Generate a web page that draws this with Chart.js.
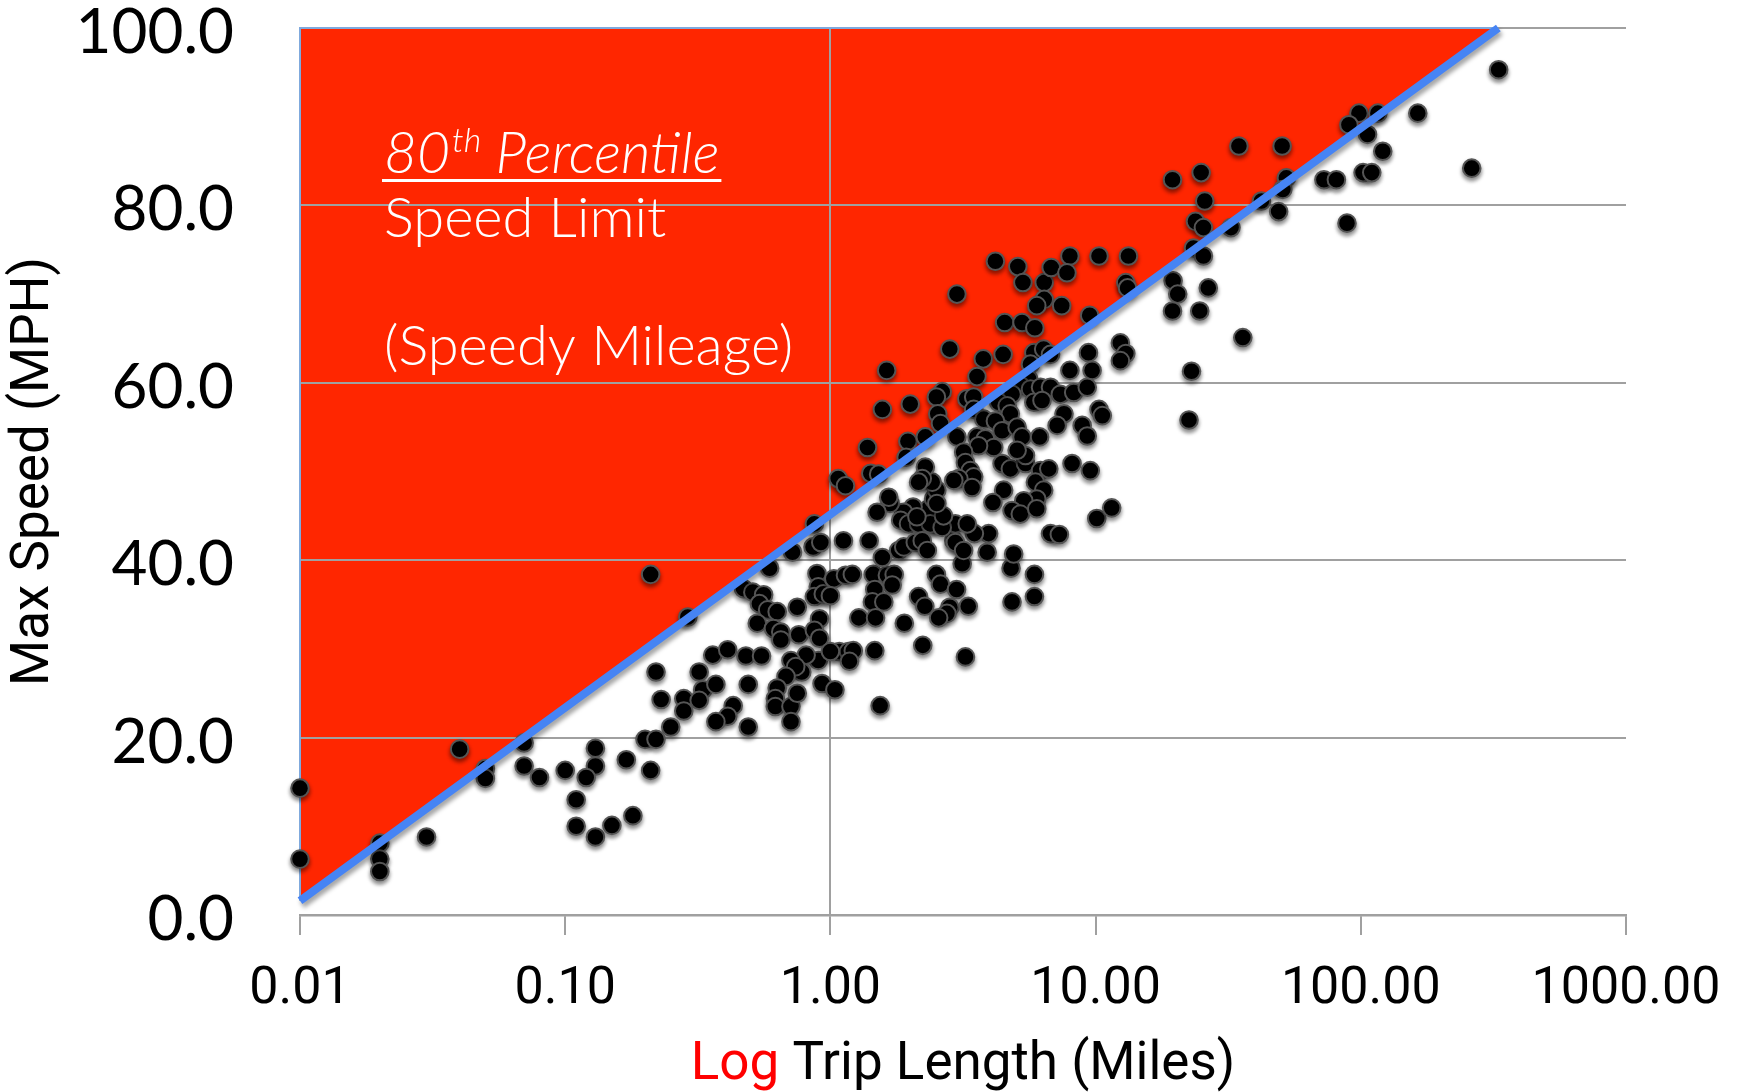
<!DOCTYPE html>
<html>
<head>
<meta charset="utf-8">
<script src="https://cdn.jsdelivr.net/npm/chart.js@4.4.1/dist/chart.umd.min.js"></script>
<style>
  html, body { margin: 0; padding: 0; background: #fff; }
  canvas { display: block; }
</style>
</head>
<body>
<canvas id="speedChart" width="1740" height="1092"></canvas>
<script>
// trip length (miles) and max speed (mph)
const tripMiles = [
  0.01, 0.01, 0.02, 0.02, 0.02, 0.03, 0.04, 0.05, 0.05, 0.07, 0.07, 0.08, 0.11, 0.11, 0.13, 0.15, 0.18, 0.87, 0.86, 0.92, 0.72,
  0.21, 0.29, 0.59, 0.47, 0.51, 0.56, 0.54, 0.58, 0.63, 0.53,
  0.61, 0.65, 0.65, 0.76, 0.75, 0.89, 0.90, 0.87, 0.91, 0.87,
  0.91, 0.90, 0.81, 0.78, 0.71, 0.74, 0.68, 0.63, 0.62, 0.62,
  0.71, 0.75, 0.71, 0.93, 0.36, 0.41, 0.48, 0.55, 0.22, 0.32,
  0.33, 0.37, 0.49, 0.23, 0.28, 0.32, 0.28, 0.43, 0.41, 0.37,
  0.49, 0.25, 0.20, 0.22, 0.13, 0.13, 0.17, 0.21, 0.10, 0.12, 0.94,
  1.03, 1.14, 1.21, 1.45, 1.64, 1.74, 1.71, 1.47, 1.44, 1.59,
  1.00, 1.28, 1.48, 1.90, 2.15, 2.27, 2.51, 2.60, 2.99, 3.14,
  2.82, 2.75, 2.56, 3.31, 4.80, 5.88, 4.84, 5.88, 1.08, 1.17,
  1.22, 1.18, 1.47, 2.23, 3.23, 1.04, 1.54, 1.00,
  2.82, 1.63, 3.77, 4.48, 3.57, 2.64, 2.51, 1.57, 2.00, 2.54,
  2.60, 1.38, 1.96, 2.28, 1.93, 1.07, 1.14, 1.42, 1.52, 3.27,
  3.47, 3.47, 5.85, 6.37, 6.76, 5.68, 5.60, 8.00, 9.40, 9.70,
  5.20, 5.68, 6.20, 6.76, 7.36, 8.27, 9.30, 4.84, 4.31, 4.64,
  4.77, 5.85, 6.28, 7.60, 7.16, 8.90, 9.30, 10.3, 3.79, 4.19,
  4.44, 5.06, 5.28, 6.15, 3.00, 3.57, 3.84, 4.13, 3.62, 3.18,
  3.23, 3.37, 3.47, 3.05, 2.92, 3.42, 4.44, 4.77, 5.44, 5.44,
  5.06, 6.20, 6.66, 5.93, 6.37, 6.00, 8.15, 9.55, 4.50, 4.10,
  5.36, 4.84, 5.20, 6.00, 10.1, 6.76, 7.30, 4.91, 3.95, 3.49,
  2.92, 2.96, 3.28, 2.45, 2.35, 2.45, 2.52, 2.42, 2.28, 2.22,
  2.15, 2.05, 1.89, 1.68, 1.66, 1.50, 1.84, 1.97, 2.15, 2.38,
  2.64, 2.67, 2.52, 2.12, 1.12, 1.40, 1.81, 1.89, 2.09, 2.22,
  2.32, 2.96, 3.18, 1.57, 3.90,
  98.4, 90.2, 106, 116, 34.7, 50.5, 19.5, 25.0, 25.8, 52.4,
  50.8, 42.2, 49.0, 72.6, 80.9, 102, 110, 88.7, 23.8, 25.5,
  32.4, 23.4, 25.5, 35.9, 19.6, 20.4, 19.5, 24.7, 26.6, 23.0,
  22.5, 4.19, 5.09, 5.32, 6.40, 6.80, 8.00, 7.80, 10.3, 13.3,
  13.0, 13.2, 3.00, 6.40, 6.00, 7.45, 9.50, 4.54, 5.28, 5.90,
  12.4, 13.0, 12.4, 10.6,
  331, 164, 121, 262, 11.5
];
const maxSpeed = [
  14.3, 6.3, 8.1, 6.3, 4.9, 8.8, 18.7, 16.5, 15.4, 19.4, 16.8, 15.5, 13.0, 10.0, 8.8, 10.1, 11.2, 44.1, 41.5, 42.0, 40.9,
  38.4, 33.6, 39.1, 36.8, 36.4, 36.1, 35.1, 34.4, 34.2, 32.9,
  32.3, 31.9, 31.0, 31.6, 34.7, 38.5, 37.0, 35.9, 33.4, 32.1,
  31.2, 28.7, 29.3, 27.4, 28.7, 28.0, 26.9, 25.6, 24.4, 23.5,
  23.5, 25.0, 21.8, 26.1, 29.3, 29.9, 29.2, 29.2, 27.4, 27.4,
  25.4, 26.0, 26.0, 24.3, 24.4, 24.2, 23.0, 23.6, 22.4, 21.8,
  21.2, 21.2, 19.8, 19.8, 18.8, 16.8, 17.5, 16.3, 16.3, 15.5, 36.2,
  37.9, 38.3, 38.4, 38.4, 38.3, 38.4, 37.2, 36.7, 35.3, 35.3,
  36.0, 33.5, 33.5, 32.9, 35.9, 34.8, 38.4, 37.3, 36.7, 39.6,
  34.7, 34.0, 33.5, 34.8, 39.1, 38.4, 35.3, 35.9, 29.7, 29.7,
  29.8, 28.6, 29.8, 30.4, 29.1, 25.4, 23.6, 29.7,
  63.8, 61.4, 62.7, 63.2, 60.7, 59.0, 58.4, 57.0, 57.6, 56.5,
  55.4, 52.7, 53.4, 53.9, 51.6, 49.2, 48.4, 49.8, 49.7, 58.2,
  58.4, 57.0, 63.4, 63.8, 63.2, 62.1, 60.4, 61.4, 63.4, 61.4,
  59.7, 59.3, 59.5, 59.5, 58.7, 58.9, 59.5, 58.7, 57.8, 57.4,
  56.5, 57.8, 58.0, 56.5, 55.2, 55.2, 54.0, 57.0, 55.9, 55.7,
  54.6, 55.0, 53.9, 53.9, 53.9, 53.9, 53.7, 52.7, 52.9, 52.2,
  51.0, 50.1, 49.4, 49.2, 49.0, 48.2, 50.9, 50.3, 50.9, 51.8,
  52.4, 50.1, 50.3, 48.8, 47.9, 46.9, 50.9, 50.1, 47.9, 46.5,
  46.7, 45.6, 45.2, 45.8, 44.7, 43.0, 42.9, 40.7, 43.0, 43.0,
  42.2, 44.1, 44.1, 44.1, 45.8, 46.9, 47.9, 48.8, 50.5, 49.2,
  48.8, 46.0, 45.4, 46.4, 47.1, 45.4, 44.5, 44.1, 44.1, 44.1,
  43.7, 45.0, 46.4, 44.9, 42.2, 42.2, 41.1, 41.5, 42.0, 42.2,
  41.1, 42.0, 41.1, 40.3, 40.9,
  90.4, 89.1, 88.0, 90.4, 86.7, 86.7, 82.9, 83.7, 80.5, 83.1,
  81.8, 80.5, 79.3, 82.9, 82.9, 83.7, 83.7, 78.0, 78.2, 77.5,
  77.5, 75.2, 74.3, 65.1, 71.5, 70.0, 68.1, 68.1, 70.7, 61.3,
  55.8, 73.7, 73.1, 71.3, 71.3, 73.0, 74.3, 72.4, 74.3, 74.3,
  71.3, 70.7, 70.0, 69.4, 68.7, 68.7, 67.6, 66.8, 66.8, 66.2,
  64.5, 63.3, 62.5, 56.3,
  95.3, 90.4, 86.1, 84.2, 45.9
];

// 80th percentile speed limit line (end points)
const limitMiles = [0.01, 330];
const limitSpeed = [1.6, 100];

const xTicks = [0.01, 0.1, 1, 10, 100, 1000];
const xTickLabels = ['0.01', '0.10', '1.00', '10.00', '100.00', '1000.00'];
const yMax = 100;
const yStep = 20;

const RED = '#ff2600';
const BLUE = '#4684f4';
const GRID = '#a0a0a0';

const points = tripMiles.map((m, i) => ({x: m, y: maxSpeed[i]}));
const limitLine = limitMiles.map((m, i) => ({x: m, y: limitSpeed[i]}));
const regionEdge = [
  {x: limitMiles[0], y: limitSpeed[0]},
  {x: limitMiles[0], y: yMax},
  {x: limitMiles[1], y: yMax}
];

// shadows on some datasets, and grid redrawn over the red area
const shadowPlugin = {
  id: 'shadowPlugin',
  beforeDatasetDraw(chart, args) {
    const ds = chart.data.datasets[args.index];
    if (!ds.shadow) return;
    const ctx = chart.ctx;
    ctx.save();
    ctx.shadowColor = ds.shadow.color;
    ctx.shadowBlur = ds.shadow.blur;
    ctx.shadowOffsetX = ds.shadow.dx;
    ctx.shadowOffsetY = ds.shadow.dy;
  },
  afterDatasetDraw(chart, args) {
    const ds = chart.data.datasets[args.index];
    if (ds.shadow) chart.ctx.restore();
    if (ds.regrid) {
      chart.scales.x.drawGrid(chart.chartArea);
      chart.scales.y.drawGrid(chart.chartArea);
    }
  }
};

// annotation inside the red area + two coloured x title
const textPlugin = {
  id: 'textPlugin',
  afterDraw(chart) {
    const ctx = chart.ctx;
    const area = chart.chartArea;
    const left = area.left + 84;
    ctx.save();
    ctx.fillStyle = '#ffffff';
    ctx.textBaseline = 'alphabetic';
    ctx.textAlign = 'left';

    ctx.font = 'italic 300 57px Lato';
    ctx.fillText('80', left, 173);
    let x = left + ctx.measureText('80').width + 2;
    ctx.font = 'italic 300 34px Lato';
    ctx.fillText('th', x, 152);
    x += ctx.measureText('th').width;
    ctx.font = 'italic 300 57px Lato';
    ctx.fillText(' Percentile', x, 173);
    x += ctx.measureText(' Percentile').width;
    ctx.fillRect(left - 2, 179, x - left + 4, 3);

    ctx.font = '300 56px Lato';
    ctx.fillText('Speed Limit', left, 237);
    ctx.fillText('(Speedy Mileage)', left, 365);

    // x axis title
    ctx.font = '53px Roboto';
    const parts = [['Log', '#ff0000'], [' Trip Length (Miles)', '#000000']];
    const total = parts.reduce((s, p) => s + ctx.measureText(p[0]).width, 0);
    let tx = (area.left + area.right) / 2 - total / 2;
    parts.forEach(p => {
      ctx.fillStyle = p[1];
      ctx.fillText(p[0], tx, 1079);
      tx += ctx.measureText(p[0]).width;
    });
    ctx.restore();
  }
};

new Chart(document.getElementById('speedChart'), {
  type: 'scatter',
  data: {
    datasets: [
      {
        type: 'line',
        label: 'limit',
        data: limitLine,
        borderColor: BLUE,
        borderWidth: 8,
        pointRadius: 0,
        fill: false,
        tension: 0,
        order: 0,
        clip: false,
        shadow: {color: 'rgba(0,0,0,0.35)', blur: 4, dx: 2, dy: 4}
      },
      {
        label: 'trips',
        data: points,
        pointRadius: 8.8,
        pointBackgroundColor: '#000000',
        pointBorderColor: '#555555',
        pointBorderWidth: 2,
        order: 1,
        clip: false,
        shadow: {color: 'rgba(0,0,0,0.45)', blur: 4, dx: 0, dy: 3}
      },
      {
        type: 'line',
        label: 'edge',
        data: regionEdge,
        borderColor: '#7fa9dd',
        borderWidth: 2,
        pointRadius: 0,
        fill: false,
        order: 2,
        clip: false
      },
      {
        type: 'line',
        label: 'speedy',
        data: limitLine,
        borderWidth: 0,
        borderColor: 'rgba(0,0,0,0)',
        backgroundColor: RED,
        pointRadius: 0,
        fill: 'end',
        order: 3,
        regrid: true
      }
    ]
  },
  options: {
    responsive: false,
    animation: false,
    devicePixelRatio: 1,
    events: [],
    layout: { padding: { top: 28, right: 114, left: 0, bottom: 0 } },
    plugins: {
      legend: { display: false },
      tooltip: { enabled: false }
    },
    scales: {
      x: {
        type: 'logarithmic',
        min: xTicks[0],
        max: xTicks[xTicks.length - 1],
        afterBuildTicks: scale => { scale.ticks = xTicks.map(v => ({value: v})); },
        afterFit: scale => { scale.height = 177; scale.paddingLeft = 0; scale.paddingRight = 0; },
        ticks: {
          autoSkip: false,
          maxRotation: 0,
          padding: 24,
          color: '#000000',
          font: { family: 'Roboto', size: 52 },
          callback: (v, i) => xTickLabels[i]
        },
        grid: {
          color: c => (c.tick && c.tick.value === 1 ? GRID : 'rgba(0,0,0,0)'),
          tickColor: GRID,
          tickLength: 20,
          lineWidth: 2
        },
        border: { display: true, color: GRID, width: 2.5 }
      },
      y: {
        min: 0,
        max: yMax,
        afterFit: scale => { scale.width = 300; scale.paddingTop = 0; scale.paddingBottom = 0; },
        ticks: {
          stepSize: yStep,
          padding: 66,
          labelOffset: 5,
          color: '#000000',
          font: { family: 'Lato', size: 62, lineHeight: 1 },
          callback: v => v.toFixed(1)
        },
        grid: { color: GRID, lineWidth: 2, drawTicks: false },
        border: { display: false },
        title: {
          display: true,
          text: 'Max Speed (MPH)',
          color: '#000000',
          font: { family: 'Roboto', size: 53 },
          padding: { top: 3, bottom: 0 }
        }
      }
    }
  },
  plugins: [shadowPlugin, textPlugin]
});
</script>
</body>
</html>
